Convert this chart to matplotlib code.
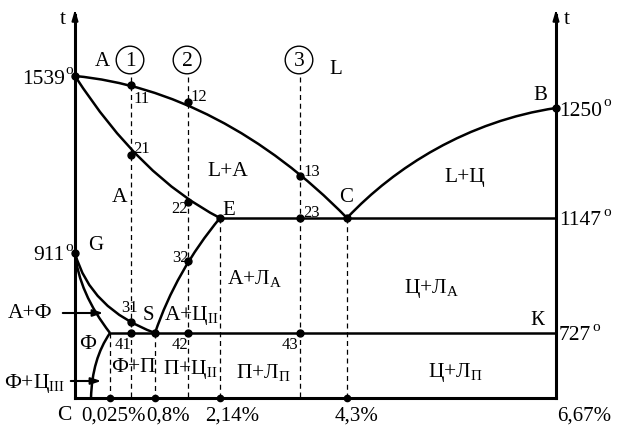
import matplotlib.pyplot as plt
from matplotlib.path import Path
from matplotlib.patches import PathPatch

plt.rcParams['font.family'] = ['Liberation Serif', 'DejaVu Serif']
plt.rcParams['mathtext.fontset'] = 'custom'
plt.rcParams['mathtext.rm'] = 'Liberation Serif'
plt.rcParams['mathtext.it'] = 'Liberation Serif:italic'

# schematic diagram coordinates (x: composition position, y: temperature level, downwards)
x_left, x_right, y_bottom, y_top = 75, 556, 399, 8

comp_labels = ['0,025%', '0,8%', '2,14%', '4,3%', '6,67%']
comp_x = [110, 155, 220, 347, 556]

temp_labels = ['1539', '1250', '1147', '911', '727']
temp_y = [77, 109, 219, 254, 334]

alloy_names = ['1', '2', '3']
alloy_x = [131, 188, 300]

# curves as (start, control(s), end)
liquidus_AC = [(75, 77), (170, 86), (265, 135), (347, 219)]
solidus_AE = [(75, 77), (140, 178), (220, 219)]
liquidus_CB = [(347, 219), (395, 168), (468, 122), (556, 109)]
line_GS = [(75, 254), (90, 310), (155, 334)]
line_GP = [(75, 254), (79, 294), (110, 334)]
line_PQ = [(110, 334), (92, 360), (91, 399)]
line_SE = [(155, 334), (176, 272), (220, 219)]

points = {
    'A': (75, 77), '11': (131, 86), '12': (188, 103), '13': (300, 177),
    '21': (131, 156), '22': (188, 203), 'E': (220, 219), '23': (300, 219),
    'C': (347, 219), 'B': (556, 109), 'G': (75, 254), '32': (188, 262),
    '31': (131, 323), 'S': (155, 334), '41': (131, 334), '42': (188, 334),
    '43': (300, 334),
}

fig = plt.figure(figsize=(6.19, 4.35), dpi=100)
ax = fig.add_axes([0, 0, 1, 1])
ax.set_xlim(0, 619)
ax.set_ylim(435, 0)
ax.axis('off')

lw = 1.8
big = 15.5
small = 12


def bezier(pts):
    codes = [Path.MOVETO] + ([Path.CURVE3] * 2 if len(pts) == 3 else [Path.CURVE4] * 3)
    ax.add_patch(PathPatch(Path(pts, codes), fc='none', ec='black', lw=lw, zorder=3))


for c in [liquidus_AC, solidus_AE, liquidus_CB, line_GS, line_GP, line_PQ, line_SE]:
    bezier(c)

# axes with arrows
for xa in [x_left, x_right]:
    ax.plot([xa, xa], [y_bottom, y_top + 8], color='black', lw=2.2, zorder=3)
    ax.annotate('', xy=(xa, y_top), xytext=(xa, y_top + 12),
                arrowprops=dict(arrowstyle='-|>,head_width=0.18,head_length=0.6',
                                color='black', lw=1.5))
    ax.text(xa + 11 if xa == x_right else xa - 12, 19, 't', fontsize=big,
            ha='center', va='center')
ax.plot([x_left, x_right], [y_bottom, y_bottom], color='black', lw=2.2, zorder=3)

# horizontal lines ECF and PSK
ax.plot([comp_x[2], x_right], [temp_y[2], temp_y[2]], color='black', lw=lw, zorder=3)
ax.plot([comp_x[0], x_right], [temp_y[4], temp_y[4]], color='black', lw=lw, zorder=3)

# dashed verticals
dash = dict(color='black', lw=0.9, ls=(0, (4, 3)), zorder=2)
for xa in alloy_x:
    ax.plot([xa, xa], [78, y_bottom], **dash)
for xa, yt in zip(comp_x[:4], [temp_y[4], temp_y[4], temp_y[2], temp_y[2]]):
    ax.plot([xa, xa], [yt, y_bottom], **dash)
ax.plot(comp_x[:4], [y_bottom] * 4, 'o', color='black', ms=4.5, zorder=4)

# dots
px = [p[0] for p in points.values()]
py = [p[1] for p in points.values()]
ax.plot(px, py, 'o', color='black', ms=5, zorder=4)

# alloy circles
for name, xa in zip(alloy_names, alloy_x):
    ax.text(xa - 1, 61, name, fontsize=big, ha='center', va='center',
            bbox=dict(boxstyle='circle,pad=0.2', fc='white', ec='black', lw=1))

# temperature labels with degree "o"
for lab, yt in zip(temp_labels, temp_y):
    if lab in ('1539', '911'):
        ax.text(x_left - 10, yt + 2, lab, fontsize=big, ha='right', va='center')
        ax.text(x_left - 10, yt - 6, 'o', fontsize=11, ha='left', va='center')
    else:
        ax.text(x_right + 3, yt + 2, lab, fontsize=big, ha='left', va='center')
        ax.text(x_right + 47 - (11 if len(lab) == 3 else 0), yt - 6, 'o',
                fontsize=11, ha='left', va='center')

# composition labels
ax.text(64, 416, 'C', fontsize=big, ha='center', va='center')
comp_label_x = [113, 168, 232, 357, 584]
for lab, xl in zip(comp_labels, comp_label_x):
    ax.text(xl, 416, lab, fontsize=15, ha='center', va='center')

# point labels
small_labels = {'11': (142, 99), '12': (199, 97), '21': (142, 149), '13': (312, 172),
                '22': (180, 209), '23': (311, 213), '32': (180, 258), '31': (129, 308),
                '41': (123, 345), '42': (180, 345), '43': (290, 345)}
for lab, (xl, yl) in small_labels.items():
    ax.text(xl, yl, lab, fontsize=small, ha='center', va='center')

letter_labels = {'A': (102, 61), 'L': (336, 70), 'B': (540, 96), 'E': (229, 211),
                 'C': (346, 198), 'G': (96, 246), 'S': (148, 316), 'К': (537, 321)}
for lab, (xl, yl) in letter_labels.items():
    ax.text(xl, yl, lab, fontsize=big - 0.5, ha='center', va='center')

# region labels
regions = {
    'L+A': (228, 172), 'A': (120, 198), 'L+Ц': (465, 178),
    r'А+Л$_{\rm А}$': (255, 279), r'Ц+Л$_{\rm А}$': (432, 289),
    r'А+Ц$_{\rm II}$': (191, 316), 'Ф': (88, 345), 'Ф+П': (133, 368),
    r'П+Ц$_{\rm II}$': (190, 370), r'П+Л$_{\rm П}$': (263, 373),
    r'Ц+Л$_{\rm П}$': (455, 373),
}
for lab, (xl, yl) in regions.items():
    ax.text(xl, yl, lab, fontsize=big, ha='center', va='center')

# arrowed labels on the left
ax.text(30, 314, 'А+Ф', fontsize=big, ha='center', va='center')
ax.annotate('', xy=(106, 314), xytext=(60, 314),
            arrowprops=dict(arrowstyle='-|>,head_width=0.2,head_length=0.6',
                            color='black', lw=1.5))
ax.text(34, 384, r'Ф+Ц$_{\rm III}$', fontsize=big, ha='center', va='center')
ax.annotate('', xy=(104, 382), xytext=(68, 382),
            arrowprops=dict(arrowstyle='-|>,head_width=0.2,head_length=0.6',
                            color='black', lw=1.5))

fig.savefig('out.png', dpi=100)
